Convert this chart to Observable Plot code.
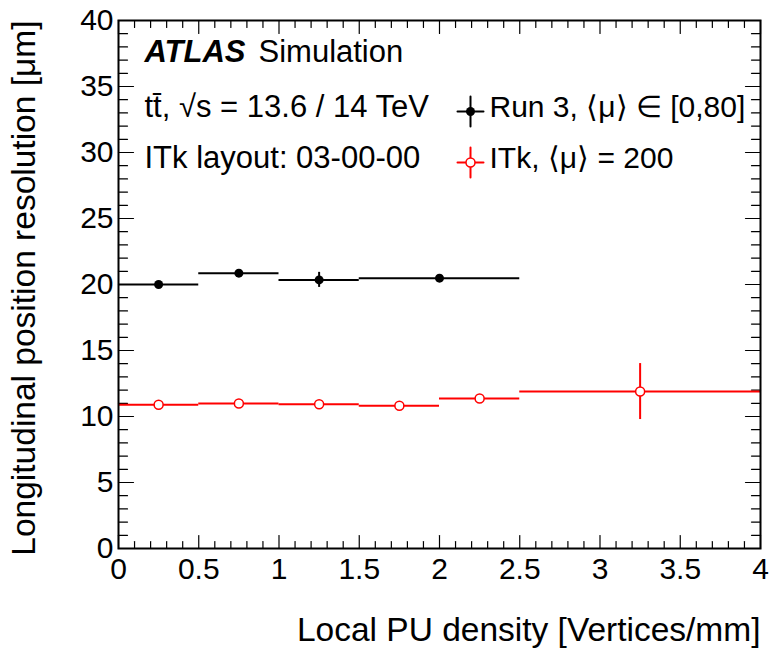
<!DOCTYPE html>
<html><head><meta charset="utf-8">
<script src="https://cdn.jsdelivr.net/npm/d3@7"></script>
<script src="https://cdn.jsdelivr.net/npm/@observablehq/plot@0.6"></script>
<style>body{margin:0;background:#fff}</style>
</head><body><div id="chart"></div>
<script>
// Run 3 series (bins, centres, values, errors)
const run3Lo = [0, 0.5, 1.0, 1.5];
const run3Hi = [0.5, 1.0, 1.5, 2.5];
const run3X = [0.25, 0.75, 1.25, 2.0];
const run3Y = [20.0, 20.86, 20.35, 20.48];
const run3Err = [0.1, 0.1, 0.57, 0.1];
// ITk series
const itkLo = [0, 0.5, 1.0, 1.5, 2.0, 2.5];
const itkHi = [0.5, 1.0, 1.5, 2.0, 2.5, 4.0];
const itkX = [0.25, 0.75, 1.25, 1.75, 2.25, 3.25];
const itkY = [10.89, 10.98, 10.93, 10.81, 11.36, 11.89];
const itkErr = [0.1, 0.1, 0.1, 0.1, 0.1, 2.12];
// tick labels
const xTicks = [0, 0.5, 1, 1.5, 2, 2.5, 3, 3.5, 4];
const yTicks = [0, 5, 10, 15, 20, 25, 30, 35, 40];
const xMinor = d3.range(0, 40.5, 1).map(d => d / 10).filter(d => !xTicks.includes(d));
const yMinor = d3.range(0, 41, 1).filter(d => !yTicks.includes(d));

const run3 = run3X.map((x, i) => ({x, y: run3Y[i], lo: run3Lo[i], hi: run3Hi[i], err: run3Err[i]}));
const itk = itkX.map((x, i) => ({x, y: itkY[i], lo: itkLo[i], hi: itkHi[i], err: itkErr[i]}));

const line = {draw(ctx, l) { ctx.moveTo(0, 0); ctx.lineTo(0, -l); }};
const cross = {draw(ctx) { ctx.moveTo(-13, 0); ctx.lineTo(13, 0); ctx.moveTo(0, -15); ctx.lineTo(0, 15); }};
const tk = (data, o) => Plot.vector(data, {anchor: "start", shape: line, stroke: "black", strokeWidth: 1.2, ...o});
const F = "Liberation Sans, Arial, Helvetica, sans-serif";
const T = (s, o) => Plot.text([s], {frameAnchor: "top-left", text: d => d, textAnchor: "start", lineAnchor: "middle", fontSize: 31, ...o});

const chart = Plot.plot({
  width: 770, height: 649,
  marginLeft: 118, marginRight: 10, marginTop: 20, marginBottom: 101,
  style: {fontFamily: F, background: "white", color: "black"},
  x: {domain: [0, 4]},
  y: {domain: [0, 40]},
  marks: [
    // ticks inside the frame (ROOT style)
    tk(xTicks, {x: d => d, y: 0, length: 13, rotate: 0}),
    tk(xMinor, {x: d => d, y: 0, length: 7, rotate: 0}),
    tk(xTicks, {x: d => d, y: 40, length: 13, rotate: 180}),
    tk(xMinor, {x: d => d, y: 40, length: 7, rotate: 180}),
    tk(yTicks, {y: d => d, x: 0, length: 15, rotate: 90}),
    tk(yMinor, {y: d => d, x: 0, length: 9, rotate: 90}),
    tk(yTicks, {y: d => d, x: 4, length: 15, rotate: -90}),
    tk(yMinor, {y: d => d, x: 4, length: 9, rotate: -90}),
    Plot.axisX(xTicks, {tickSize: 0, tickPadding: 9, fontSize: 30, tickFormat: d3.format("~g"), label: null}),
    Plot.axisY(yTicks, {tickSize: 0, tickPadding: 5, fontSize: 30, tickFormat: d3.format("~g"), label: null}),
    // ITk
    Plot.ruleY(itk, {y: "y", x1: "lo", x2: "hi", stroke: "#ff0000", strokeWidth: 2}),
    Plot.ruleX(itk, {x: "x", y1: d => d.y - d.err, y2: d => d.y + d.err, stroke: "#ff0000", strokeWidth: 2}),
    Plot.dot(itk, {x: "x", y: "y", r: 4.5, fill: "white", stroke: "#ff0000", strokeWidth: 1.5}),
    // Run 3
    Plot.ruleY(run3, {y: "y", x1: "lo", x2: "hi", stroke: "black", strokeWidth: 2}),
    Plot.ruleX(run3, {x: "x", y1: d => d.y - d.err, y2: d => d.y + d.err, stroke: "black", strokeWidth: 2}),
    Plot.dot(run3, {x: "x", y: "y", r: 4.5, fill: "black"}),
    Plot.frame({stroke: "black", strokeWidth: 2}),
    // annotations
    T("ATLAS", {dx: 26, dy: 32, fontWeight: "bold", fontStyle: "italic"}),
    T("Simulation", {dx: 140, dy: 32}),
    T("t\u0074\u0304, \u221As = 13.6 / 14 TeV", {dx: 26, dy: 87}),
    T("ITk layout: 03-00-00", {dx: 26, dy: 138}),
    // legend
    Plot.vector([0], {frameAnchor: "top-left", dx: 352, dy: 91, shape: cross, anchor: "start", length: 1, stroke: "black", strokeWidth: 2}),
    Plot.dot([0], {frameAnchor: "top-left", dx: 352, dy: 91, r: 4.5, fill: "black"}),
    T("Run 3, \u27E8\u03BC\u27E9 \u2208 [0,80]", {dx: 371, dy: 87, fontSize: 30}),
    Plot.vector([0], {frameAnchor: "top-left", dx: 352, dy: 142, shape: cross, anchor: "start", length: 1, stroke: "#ff0000", strokeWidth: 2}),
    Plot.dot([0], {frameAnchor: "top-left", dx: 352, dy: 142, r: 4.5, fill: "white", stroke: "#ff0000", strokeWidth: 1.5}),
    T("ITk, \u27E8\u03BC\u27E9 = 200", {dx: 371, dy: 138, fontSize: 30}),
    // axis titles
    Plot.text(["Local PU density [Vertices/mm]"], {frameAnchor: "bottom-right", text: d => d, dx: 0, dy: 82, textAnchor: "end", lineAnchor: "middle", fontSize: 33.5}),
    Plot.text(["Longitudinal position resolution [\u03BCm]"], {frameAnchor: "top-left", text: d => d, rotate: -90, dx: -94, dy: 0, textAnchor: "end", lineAnchor: "middle", fontSize: 33.5})
  ]
});
document.getElementById("chart").appendChild(chart);
</script>
</body></html>
